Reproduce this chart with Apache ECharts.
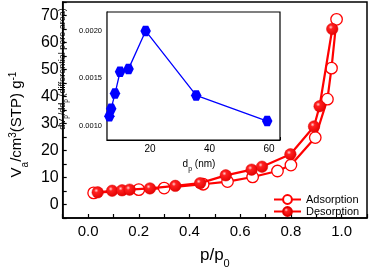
<!DOCTYPE html>
<html>
<head>
<meta charset="utf-8">
<script src="https://cdn.jsdelivr.net/npm/echarts@6/dist/echarts.min.js"></script>
<style>
html,body{margin:0;padding:0;background:#fff;}
#c{width:370px;height:274px;}
</style>
</head>
<body>
<div id="c"></div>
<script>
// Main isotherm data (p/p0, Va)
const adsX = [0.022, 0.20, 0.30, 0.454, 0.55, 0.649, 0.747, 0.80, 0.896, 0.944, 0.96, 0.98];
const adsY = [4.3, 5.5, 6.1, 7.5, 8.5, 10.2, 12.4, 14.6, 24.8, 39.0, 50.5, 68.6];
const desX = [0.038, 0.095, 0.134, 0.164, 0.244, 0.344, 0.442, 0.543, 0.645, 0.686, 0.798, 0.891, 0.913, 0.963];
const desY = [4.5, 5.1, 5.25, 5.5, 5.95, 6.9, 7.9, 10.8, 12.9, 14.0, 18.6, 28.9, 36.4, 65.0];
// Inset pore size distribution (dp nm, dVp/ddp)
const poreX = [6.3, 6.9, 8.2, 9.9, 12.75, 18.5, 35.5, 59.4];
const poreY = [0.00110, 0.00118, 0.00134, 0.00157, 0.00160, 0.00200, 0.00132, 0.00105];
// Tick labels
const mainXTicks = ['0.0', '0.2', '0.4', '0.6', '0.8', '1.0'];
const mainYTicks = [0, 10, 20, 30, 40, 50, 60, 70];
const insetXTicks = [20, 40, 60];
const insetYTicks = ['0.0010', '0.0015', '0.0020'];

const FONT = 'Liberation Sans, Arial, sans-serif';
const RED = '#ff0000';
const BLUE = '#0000ff';
const hexPath = 'path://M-1,0 L-0.5,-0.866 L0.5,-0.866 L1,0 L0.5,0.866 L-0.5,0.866 Z';

const ball = {
  type: 'radial', x: 0.38, y: 0.35, r: 0.7,
  colorStops: [
    {offset: 0, color: '#ffd0d0'},
    {offset: 0.25, color: '#ff2020'},
    {offset: 1, color: '#e00000'}
  ]
};

function pair(xs, ys){ return xs.map((x,i)=>[x, ys[i]]); }

const chart = echarts.init(document.getElementById('c'), null, {renderer:'canvas'});
const option = {
  backgroundColor: '#fff',
  animation: false,
  textStyle: {fontFamily: FONT},
  grid: [
    {left: 53, right: 3, top: 2, bottom: 48, show: true, borderColor: '#000', borderWidth: 1.5, backgroundColor: 'transparent'},
    {left: 107, right: 90, top: 12, bottom: 134, show: true, borderColor: '#000', borderWidth: 1.2, backgroundColor: '#fff', z: 5}
  ],
  legend: {
    orient: 'vertical', left: 268, top: 189, itemWidth: 27, itemHeight: 11, itemGap: 1,
    textStyle: {fontSize: 11, color: '#000', fontFamily: FONT},
    data: ['Adsorption', 'Desorption']
  },
  xAxis: [
    {
      gridIndex: 0, type: 'value', min: -0.1, max: 1.1, interval: 0.1,
      axisLine: {onZero: false, lineStyle: {color: '#000', width: 1.5}},
      axisTick: {inside: true, length: 4, lineStyle: {color: '#000', width: 1.2}},
      splitLine: {show: false},
      axisLabel: {
        fontSize: 15, color: '#000', margin: 6, fontFamily: FONT,
        showMinLabel: true, showMaxLabel: true,
        formatter: v => { const r = Math.round(v*10); const s = (r/10).toFixed(1); return mainXTicks.includes(s) && r >= 0 ? s : ''; }
      },
      name: '{n|p/p}{sub|0}', nameLocation: 'middle', nameGap: 27,
      nameTextStyle: {
        color: '#000', fontSize: 17, fontFamily: FONT,
        rich: {
          n: {fontSize: 17, color: '#000', fontFamily: FONT, lineHeight: 20},
          sub: {fontSize: 11, color: '#000', fontFamily: FONT, verticalAlign: 'bottom', lineHeight: 11, padding: [0,0,-4,0]}
        }
      }
    },
    {
      gridIndex: 1, type: 'value', min: 5.5, max: 63.7, splitNumber: 6,
      axisLine: {onZero: false, lineStyle: {color: '#000', width: 1.2}},
      axisTick: {inside: true, length: 3, lineStyle: {color: '#000', width: 1}},
      splitLine: {show: false},
      axisLabel: {
        fontSize: 10, color: '#000', margin: 4, fontFamily: FONT,
        formatter: v => insetXTicks.includes(Math.round(v*1000)/1000) ? String(v) : ''
      },
      name: '{n|d}{sub|p}{n| (nm)}', nameLocation: 'middle', nameGap: 18,
      nameTextStyle: {
        color: '#000', fontSize: 10, fontFamily: FONT, padding: [0, 0, 0, 11],
        rich: {
          n: {fontSize: 10, color: '#000', fontFamily: FONT, lineHeight: 12},
          sub: {fontSize: 7, color: '#000', fontFamily: FONT, verticalAlign: 'bottom', lineHeight: 7, padding: [0,0,-3,0]}
        }
      }
    }
  ],
  yAxis: [
    {
      gridIndex: 0, type: 'value', min: -5, max: 75, interval: 5,
      axisLine: {onZero: false, lineStyle: {color: '#000', width: 1.5}},
      axisTick: {inside: true, length: 4, lineStyle: {color: '#000', width: 1.2}},
      splitLine: {show: false},
      axisLabel: {
        fontSize: 16, color: '#000', margin: 4, fontFamily: FONT,
        formatter: v => mainYTicks.includes(v) ? String(v) : ''
      },
      name: '{n|V}{sub|a}{n|/cm}{sup|3}{n|(STP) g}{sup|-1}', nameLocation: 'middle', nameGap: 32, nameRotate: 90,
      nameTextStyle: {
        color: '#000', fontSize: 15, fontFamily: FONT, padding: [0, 29, 0, 0],
        rich: {
          n: {fontSize: 15, color: '#000', fontFamily: FONT, lineHeight: 18},
          sub: {fontSize: 10, color: '#000', fontFamily: FONT, verticalAlign: 'bottom', lineHeight: 10, padding: [0,0,-4,0]},
          sup: {fontSize: 10, color: '#000', fontFamily: FONT, verticalAlign: 'top', lineHeight: 10}
        }
      }
    },
    {
      gridIndex: 1, type: 'value', min: 0.00085, max: 0.0022, splitNumber: 3,
      axisLine: {onZero: false, lineStyle: {color: '#000', width: 1.2}},
      axisTick: {inside: true, length: 3, lineStyle: {color: '#000', width: 1}},
      splitLine: {show: false},
      axisLabel: {
        fontSize: 7.5, color: '#000', margin: 5, fontFamily: FONT,
        formatter: v => { const s = v.toFixed(4); return insetYTicks.includes(s) && Math.abs(v*10000 - Math.round(v*10000)) < 1e-6 ? s : ''; }
      },
      name: '{n|dV}{sub|p}{n|/dd}{sub|p}{n| (differential pore area)}', nameLocation: 'middle', nameGap: 39, nameRotate: 90,
      nameTextStyle: {
        color: '#000', fontSize: 9, fontFamily: FONT, padding: [0, 0, 0, 14],
        rich: {
          n: {fontSize: 9, color: '#000', fontFamily: FONT, lineHeight: 10},
          sub: {fontSize: 6.5, color: '#000', fontFamily: FONT, verticalAlign: 'bottom', lineHeight: 6, padding: [0,0,-2,0]}
        }
      }
    }
  ],
  series: [
    {
      name: 'Adsorption', type: 'line', xAxisIndex: 0, yAxisIndex: 0, z: 3,
      data: pair(adsX, adsY),
      symbol: 'circle', symbolSize: 11.5,
      lineStyle: {color: RED, width: 2.2},
      itemStyle: {color: '#fff', borderColor: RED, borderWidth: 1.3},
      emphasis: {disabled: true}
    },
    {
      name: 'Desorption', type: 'line', xAxisIndex: 0, yAxisIndex: 0, z: 4,
      data: pair(desX, desY),
      symbol: 'circle', symbolSize: 11.5,
      lineStyle: {color: RED, width: 2.2},
      itemStyle: {color: ball, borderColor: '#e00000', borderWidth: 0.5},
      emphasis: {disabled: true}
    },
    {
      name: 'PSD', type: 'line', xAxisIndex: 1, yAxisIndex: 1, z: 10,
      data: pair(poreX, poreY),
      symbol: hexPath, symbolSize: 10.5, clip: true,
      lineStyle: {color: BLUE, width: 1.3},
      itemStyle: {color: BLUE},
      emphasis: {disabled: true}
    }
  ]
};
chart.setOption(option);
</script>
</body>
</html>
